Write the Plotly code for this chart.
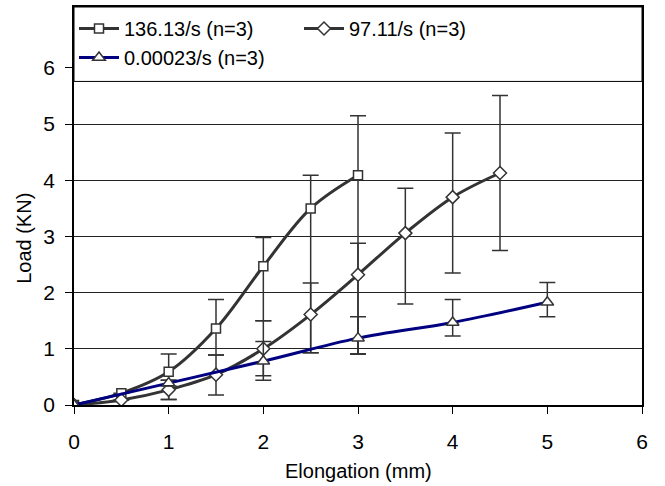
import plotly.graph_objects as go

# ---- data ----
x_fast = [0, 0.5, 1, 1.5, 2, 2.5, 3]
y_fast = [0, 0.21, 0.59, 1.36, 2.47, 3.50, 4.09]
ep_fast = [0, 0, 0.32, 0.52, 0.51, 0.59, 1.06]
em_fast = [0, 0, 0.49, 0.47, 0.97, 2.57, 3.18]

x_mid = [0, 0.5, 1, 1.5, 2, 2.5, 3, 3.5, 4, 4.5]
y_mid = [0, 0.09, 0.27, 0.54, 1.00, 1.61, 2.32, 3.06, 3.70, 4.13]
ep_mid = [0, 0, 0.17, 0.35, 0.50, 0.56, 0.56, 0.80, 1.14, 1.38]
em_mid = [0, 0, 0.17, 0.36, 0.48, 0.68, 1.41, 1.26, 1.35, 1.38]

x_slow = [0, 1, 2, 3, 4, 5]
y_slow = [0, 0.39, 0.78, 1.19, 1.47, 1.83]
ep_slow = [0, 0.05, 0.35, 0.38, 0.41, 0.35]
em_slow = [0, 0.05, 0.34, 0.28, 0.24, 0.26]

names = ["136.13/s (n=3)", "97.11/s (n=3)", "0.00023/s (n=3)"]
x_ticks = [0, 1, 2, 3, 4, 5, 6]
y_ticks = [0, 1, 2, 3, 4, 5, 6]

FONT = "Liberation Sans, Arial, sans-serif"
GRAY = "#333333"
NAVY = "#000080"
Y_TOP = 7.085
LEG_BOTTOM = 5.76

fig = go.Figure()

def add(xs, ys, ep, em, name, lcolor, symbol, msize):
    fig.add_trace(go.Scatter(
        x=xs, y=ys, name=name, mode="lines+markers",
        line=dict(color=lcolor, width=3, shape="spline", smoothing=1.0),
        marker=dict(symbol=symbol, size=msize, color="white",
                    line=dict(color=GRAY, width=1.5)),
        error_y=dict(type="data", symmetric=False, array=ep, arrayminus=em,
                     color=GRAY, thickness=1.5, width=8),
    ))

add(x_fast, y_fast, ep_fast, em_fast, names[0], GRAY, "square", 9)
add(x_mid, y_mid, ep_mid, em_mid, names[1], GRAY, "diamond", 10)
add(x_slow, y_slow, ep_slow, em_slow, names[2], NAVY, "triangle-up", 11)

fig.add_shape(type="rect", xref="paper", yref="y", x0=0, x1=1,
              y0=LEG_BOTTOM, y1=Y_TOP, fillcolor="white",
              line=dict(color="black", width=1), layer="above")

fig.update_layout(
    width=665, height=486,
    margin=dict(l=74, r=23, t=5, b=81),
    paper_bgcolor="white", plot_bgcolor="white",
    font=dict(family=FONT, size=20, color="black"),
    showlegend=True,
    legend=dict(orientation="h", x=0.0, xanchor="left", y=0.995, yanchor="top",
                bgcolor="rgba(0,0,0,0)", entrywidth=170, entrywidthmode="pixels",
                font=dict(family=FONT, size=20, color="black"),
                itemwidth=40, tracegroupgap=0),
    xaxis=dict(range=[0, 6], tickvals=x_ticks, showgrid=False, zeroline=False,
               showline=True, linecolor="black", linewidth=1.5, mirror=True,
               ticks="outside", ticklen=7, tickcolor="black",
               tickfont=dict(family=FONT, size=21), ticklabelstandoff=10),
    yaxis=dict(range=[0, Y_TOP], tickvals=y_ticks, showgrid=True,
               gridcolor="#222222", gridwidth=1, zeroline=False,
               showline=True, linecolor="black", linewidth=1.5, mirror=True,
               ticks="outside", ticklen=7, tickcolor="black",
               tickfont=dict(family=FONT, size=21), ticklabelstandoff=6),
    annotations=[
        dict(text="Load (KN)", xref="paper", yref="paper", x=-0.088, y=0.4175,
             xanchor="center", yanchor="middle", textangle=-90, showarrow=False,
             font=dict(family=FONT, size=20)),
        dict(text="Elongation (mm)", xref="paper", yref="paper", x=0.5, y=-0.165,
             xanchor="center", yanchor="middle", showarrow=False,
             font=dict(family=FONT, size=20)),
    ],
)

fig.write_html("out.html", config={"displayModeBar": False},
               post_script="document.body.style.margin='0';")
